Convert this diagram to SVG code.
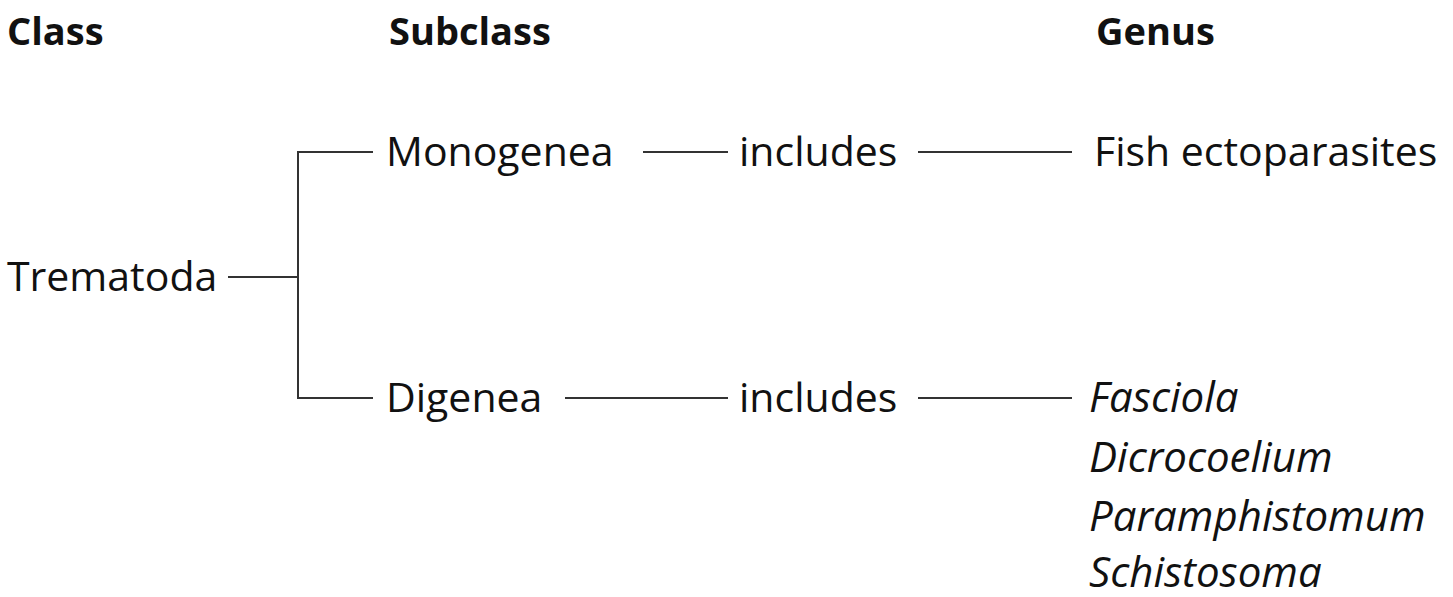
<svg xmlns="http://www.w3.org/2000/svg" width="1453" height="597" viewBox="0 0 1453 597">
<style>
text{font-family:"Open Sans","Noto Sans","Liberation Sans",sans-serif;fill:#111;font-size:41px}
.h{font-weight:bold;font-size:38px}
.i{font-style:italic;font-size:42px}
.c line{stroke:#333;stroke-width:2;fill:none}
</style>
<rect width="1453" height="597" fill="#fff"/>
<g id="headers">
<text class="h" x="7" y="45">Class</text>
<text class="h" x="389" y="45">Subclass</text>
<text class="h" x="1096" y="45">Genus</text>
</g>
<g id="trematoda"><text x="7" y="291">Trematoda</text></g>
<g id="monogenea"><text x="386" y="166">Monogenea</text></g>
<g id="includes1"><text x="739" y="166">includes</text></g>
<g id="fish"><text x="1094" y="166">Fish ectoparasites</text></g>
<g id="digenea"><text x="386" y="412">Digenea</text></g>
<g id="includes2"><text x="739" y="412">includes</text></g>
<g id="genera">
<text class="i" x="1089" y="412">Fasciola</text>
<text class="i" x="1089" y="472">Dicrocoelium</text>
<text class="i" x="1089" y="531">Paramphistomum</text>
<text class="i" x="1089" y="587">Schistosoma</text>
</g>
<g class="c" id="connectors">
<line x1="228" y1="277" x2="298" y2="277"/>
<line x1="298" y1="152" x2="298" y2="398"/>
<line x1="297" y1="152" x2="373" y2="152"/>
<line x1="297" y1="398" x2="373" y2="398"/>
<line x1="643" y1="152" x2="728" y2="152"/>
<line x1="918" y1="152" x2="1072" y2="152"/>
<line x1="565" y1="398" x2="728" y2="398"/>
<line x1="918" y1="398" x2="1072" y2="398"/>
</g>
</svg>
